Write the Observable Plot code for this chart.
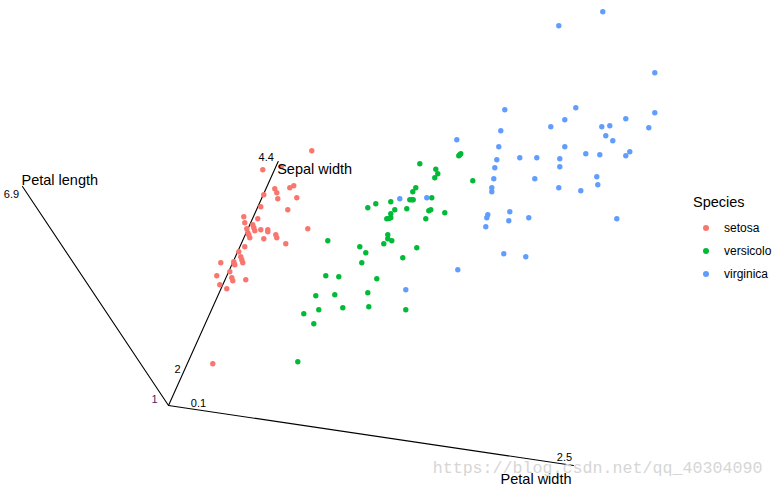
<!DOCTYPE html>
<html>
<head>
<meta charset="utf-8">
<script src="https://cdn.jsdelivr.net/npm/d3@7"></script>
<script src="https://cdn.jsdelivr.net/npm/@observablehq/plot@0.6"></script>
<style>
html,body{margin:0;padding:0;background:#fff;overflow:hidden;width:773px;height:488px}
#chart{position:relative;width:773px;height:488px;overflow:hidden;font-family:"Liberation Sans",Arial,sans-serif}
#chart svg{display:block}
#legend{position:absolute;left:693px;top:193px;white-space:nowrap;color:#000}
#legend .t{font-size:14.5px;line-height:18px;margin-bottom:5px}
#legend .r{display:flex;align-items:center;height:23px;font-size:12px}
#legend .s{width:6px;height:6px;border-radius:50%;margin-left:10px;margin-right:15px}
</style>
</head>
<body>
<div id="chart"></div>
<script>
const speciesNames = ["setosa", "versicolor", "virginica"];
const legendLabels = ["setosa", "versicolo", "virginica"];
const speciesColors = ["#F8766D", "#00BA38", "#619CFF"];

const setosaX = [143.3,94.3,106.3,108.3,109.3,121.3,125.3,128.3,95.3,92.3,119.3,89.3,75.3,76.3,84.3,85.3,78.3,86.3,92.3,99.3,99.3,79.3,80.3,81.3,107.3,108.3,95.3,139.3,117.3,76.3,70.3,72.3,73.3,74.3,65.3,65.3,66.3,52.3,61.3,48.3,63.3,64.3,77.3,51.3,58.3,44.3,112.7];
const setosaY = [254.7,235.7,216.7,212.7,206.7,217.7,219.7,207.7,210.7,198.7,195.7,186.7,188.7,182.7,180.7,177.7,176.7,174.7,175.7,175.7,173.7,172.7,170.7,167.7,170.7,167.7,166.7,176.7,161.7,158.7,153.7,148.7,145.7,142.7,143.7,141.7,140.7,142.7,133.7,129.7,127.7,124.7,125.7,120.7,116.7,41.7,239];

const versicolorX = [251.3,267.3,269.3,266.3,247.3,244.3,241.3,243.3,244.7,222.3,207.3,199.3,226.3,238.3,263.3,260.3,262.3,276.3,257.3,222.3,218.3,222.3,220.3,219.3,219.3,223.3,215.3,248.3,159.3,191.3,197.3,234.3,193.3,157.3,170.3,208.3,199.3,147.3,166.3,174.3,200.3,237.3,150.3,135.3,145.3,129.3,292.3,290.3,291.3,304.3];
const versicolorY = [241.7,236.3,231.7,227.7,217.7,213.7,205.7,205.7,205.7,203.7,201.7,197.7,195.7,196.7,207.7,194.7,195.7,192.7,186.7,191.7,186.7,187.7,187,170.7,166.7,164.7,161.7,157.7,164.7,158.7,152.7,147.7,142.7,129.7,128.7,126.7,112.7,109.7,110.7,97.7,98.7,95.7,95.7,91.7,81.7,43.7,251.7,249.7,250.7,224.7];

const virginicaX = [288.3,332.3,330.3,328.3,326.3,325.3,323.3,323.3,351.3,368.3,366.3,396.3,391.3,391.3,390.3,417.3,431.3,412.3,428.3,429.3,437.3,444.3,457.3,461.3,448.3,319.3,318.3,317.3,341.3,340.3,360.3,335.3,357.3,289.3,237.3,231.3,258.3,434.3,390.3,486.3,336.3,407.3,486.3,396.3,457.3,382.3,433.3,441.3,480.3];
const virginicaY = [265.7,274.7,258.7,245.7,237.7,226.7,217.7,213.7,247.7,247.7,226.7,258.7,246.7,238.7,217.7,251.7,250.7,214.7,228.7,220.7,269.7,264.7,249.7,253.7,186.7,190.7,187.7,178.7,193.7,184.7,187.7,151.7,148.7,135.7,115.7,206.7,207.7,393.7,379.7,332.7,295.7,297.7,292.7,285.7,286.7,278.7,278.7,279.7,277.7];

const axisNames = ["Petal length", "Sepal width", "Petal width"];
const axisEndX = [-146, 109.7, 405];
const axisEndY = [219, 244, -60];
const axisMinLabels = ["1", "2", "0.1"];
const axisMaxLabels = ["6.9", "4.4", "2.5"];
const watermark = "https://blog.csdn.net/qq_40304090";

const points = [
  ...setosaX.map((x, i) => ({x, y: setosaY[i], species: "setosa"})),
  ...versicolorX.map((x, i) => ({x, y: versicolorY[i], species: "versicolor"})),
  ...virginicaX.map((x, i) => ({x, y: virginicaY[i], species: "virginica"}))
];

// Label offsets around each axis, per axis in the same order as axisNames
const titleLayout = [
  {dx: -1, dy: -6, textAnchor: "start"},
  {dx: -1, dy: 8, textAnchor: "start"},
  {dx: -2, dy: 14, textAnchor: "end"}
];
const maxLayout = [{dx: -11, dy: 8}, {dx: -12, dy: -4}, {dx: -9, dy: -8}];
const minLayout = [{dx: -14, dy: -6, fill: "#4b1a6b"}, {dx: 9, dy: -36, fill: "#000"}, {dx: 30, dy: -2, fill: "#000"}];

const axisMarks = axisNames.flatMap((name, i) => {
  const segment = [{x: 0, y: 0}, {x: axisEndX[i], y: axisEndY[i]}];
  return [
    Plot.line(segment, {x: "x", y: "y", stroke: "#000", strokeWidth: 1.1}),
    Plot.text([name], {x: () => axisEndX[i], y: () => axisEndY[i], text: d => d, fontSize: 14.5, fill: "#000", ...titleLayout[i]}),
    Plot.text([axisMaxLabels[i]], {x: () => axisEndX[i], y: () => axisEndY[i], text: d => d, fontSize: 11, fill: "#000", ...maxLayout[i]}),
    Plot.text([axisMinLabels[i]], {x: () => 0, y: () => 0, text: d => d, fontSize: 11, ...minLayout[i]})
  ];
});

const chart = Plot.plot({
  width: 773,
  height: 488,
  margin: 0,
  x: {domain: [-168, 605], axis: null},
  y: {domain: [-83, 405], axis: null},
  color: {domain: speciesNames, range: speciesColors},
  style: {fontFamily: '"Liberation Sans", Arial, sans-serif', background: "#fff"},
  marks: [
    ...axisMarks.filter((_, i) => i % 4 === 0),
    Plot.dot(points, {x: "x", y: "y", fill: "species", r: 2.7, stroke: "none"}),
    ...axisMarks.filter((_, i) => i % 4 !== 0),
    Plot.text([watermark], {
      frameAnchor: "bottom-right", dx: -11, dy: -16, text: d => d,
      fontFamily: '"Liberation Mono", monospace', fontSize: 16.67, fill: "#d6d6d6"
    })
  ]
});
const root = document.getElementById("chart");
root.appendChild(chart);

const legend = document.createElement("div");
legend.id = "legend";
legend.innerHTML = '<div class="t">Species</div>' + legendLabels.map((n, i) =>
  `<div class="r"><span class="s" style="background:${speciesColors[i]}"></span><span>${n}</span></div>`).join("");
root.appendChild(legend);
</script>
</body>
</html>
